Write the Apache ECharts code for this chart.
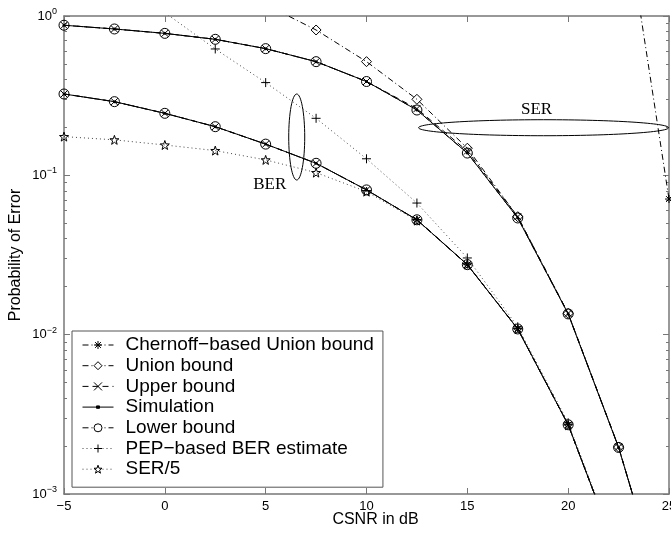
<!DOCTYPE html>
<html>
<head>
<meta charset="utf-8">
<script src="https://cdn.jsdelivr.net/npm/echarts@6/dist/echarts.min.js"></script>
<style>
html, body { margin: 0; padding: 0; background: #fff; }
#main { width: 671px; height: 535px; }
</style>
</head>
<body>
<div id="main"></div>
<script>
// CSNR grid (dB)
var snr = [-5, -2.5, 0, 2.5, 5, 7.5, 10, 12.5, 15, 17.5, 20, 22.5, 25];

// SER curves (upper group)
var serSim   = [0.875, 0.829, 0.778, 0.714, 0.624, 0.517, 0.388, 0.257, 0.138, 0.054, 0.0135, 0.00196, 0.00017];
var serUpper = [0.875, 0.829, 0.778, 0.714, 0.624, 0.517, 0.388, 0.262, 0.142, 0.055, 0.0136, 0.00197, 0.00017];
var unionX   = [5, 7.5, 10, 12.5, 15, 17.5, 20, 22.5, 25];
var unionSer = [1.18, 0.817, 0.517, 0.30, 0.148, 0.055, 0.0136, 0.00197, 0.00017];
var chernSerX = [22.5, 25];
var chernSer  = [8.1, 0.071];

// BER curves (lower group)
var berX    = [-5, -2.5, 0, 2.5, 5, 7.5, 10, 12.5, 15, 17.5, 20, 22.5];
var berSim  = [0.324, 0.290, 0.245, 0.202, 0.157, 0.119, 0.081, 0.0526, 0.0275, 0.01086, 0.00272, 0.0004];
var ser5    = [0.175, 0.167, 0.155, 0.143, 0.125, 0.104, 0.079, 0.052, 0.0276, 0.0108, 0.0027, 0.0004];
var pepX    = [0, 2.5, 5, 7.5, 10, 12.5, 15, 17.5, 20, 22.5];
var pep     = [1.05, 0.621, 0.382, 0.228, 0.127, 0.067, 0.0303, 0.0112, 0.0028, 0.00041];
var chernBerX = [12.5, 15, 17.5, 20, 22.5];
var chernBer  = [0.0526, 0.0275, 0.0109, 0.00272, 0.0004];

var legendNames = ['Chernoff-based Union bound', 'Union bound', 'Upper bound', 'Simulation',
    'Lower bound', 'PEP\u2212based BER estimate', 'SER/5'];

// minor ticks for the log axis
var minorTicks = [];
[0.001, 0.01, 0.1].forEach(function (d) {
    for (var k = 2; k <= 9; k++) minorTicks.push(+(d * k).toPrecision(3));
});

function pairs(xs, ys) {
    return xs.map(function (x, i) { return [x, ys[i]]; });
}

var SYM_PLUS = 'path://M0,-5L0,5M-5,0L5,0';
var SYM_X = 'path://M-5,-5L5,5M-5,5L5,-5';
var SYM_AST = 'path://M0,-5L0,5M-5,0L5,0M-3.6,-3.6L3.6,3.6M-3.6,3.6L3.6,-3.6';
var SYM_STAR = 'path://M0,-10L2.35,-3.24L9.51,-3.09L3.8,1.24L5.88,8.09L0,4L-5.88,8.09L-3.8,1.24L-9.51,-3.09L-2.35,-3.24Z';

var DASHDOT = [6, 3, 1, 3];
var DASH = [6, 4];
var DOT = [1, 3];

function mk(name, data, lineType, symbol, size, z) {
    return {
        name: name,
        type: 'line',
        data: data,
        symbol: symbol,
        symbolSize: size,
        showAllSymbol: true,
        clip: true,
        z: z,
        lineStyle: { color: '#000', width: 1, type: lineType },
        itemStyle: { color: 'rgba(0,0,0,0)', borderColor: '#000', borderWidth: 1 },
        emphasis: { disabled: true },
        animation: false
    };
}

var series = [
    mk(legendNames[0], pairs(chernSerX, chernSer), DASHDOT, SYM_AST, 8, 2),
    mk(legendNames[0], pairs(chernBerX, chernBer), DASHDOT, SYM_AST, 8, 2),
    mk(legendNames[1], pairs(unionX, unionSer), DASHDOT, 'diamond', 10, 2),
    mk(legendNames[2], pairs(snr, serUpper), DASH, SYM_X, 7, 2),
    mk(legendNames[2], pairs(berX, berSim), DASH, SYM_X, 7, 2),
    mk(legendNames[3], pairs(snr, serSim), 'solid', 'circle', 3, 3),
    mk(legendNames[3], pairs(berX, berSim), 'solid', 'circle', 3, 3),
    mk(legendNames[4], pairs(snr, serSim), DASHDOT, 'circle', 10, 2),
    mk(legendNames[4], pairs(berX, berSim), DASHDOT, 'circle', 10, 2),
    mk(legendNames[5], pairs(pepX, pep), DOT, SYM_PLUS, 9, 2),
    mk(legendNames[6], pairs(berX, ser5), DOT, SYM_STAR, 9, 2)
];
series[5].itemStyle = series[6].itemStyle = { color: '#000', borderWidth: 0 };
series[9].lineStyle.color = '#444';
series[10].lineStyle.color = '#444';

var FONT = 'Liberation Sans';
var axisGray = '#777';

function supLabel(v) {
    var e = Math.round(Math.log(v) / Math.LN10);
    return '{b|10}{s|' + (e === 0 ? '0' : '\u2212' + (-e)) + '}';
}
var supRich = {
    b: { fontFamily: FONT, fontSize: 13, color: '#000' },
    s: { fontFamily: FONT, fontSize: 9, color: '#000', padding: [0, 0, 9, 0] }
};

function logAxis(pos, labels, ticks, len, line) {
    var ax = {
        type: 'log', logBase: 10, min: 0.001, max: 1,
        position: pos,
        gridIndex: 0,
        axisLine: { show: line, onZero: false, lineStyle: { color: axisGray, width: 1.5 } },
        axisTick: { show: true, inside: true, length: len, lineStyle: { color: axisGray } },
        axisLabel: { show: labels, formatter: supLabel, rich: supRich, margin: 7 },
        splitLine: { show: false }
    };
    if (ticks) ax.axisTick.customValues = ticks;
    return ax;
}

var yAxes = [
    logAxis('left', true, null, 6, true),
    logAxis('left', false, minorTicks, 3, false),
    logAxis('right', false, null, 6, true),
    logAxis('right', false, minorTicks, 3, false)
];
yAxes[0].name = 'Probability of Error';
yAxes[0].nameLocation = 'middle';
yAxes[0].nameGap = 40;
yAxes[0].nameMoveOverlap = false;
yAxes[0].nameTextStyle = { fontFamily: FONT, fontSize: 16, color: '#000' };

function linAxis(pos, labels) {
    return {
        type: 'value', min: -5, max: 25, interval: 5,
        position: pos,
        axisLine: { show: true, onZero: false, lineStyle: { color: axisGray, width: 1.5 } },
        axisTick: { show: true, inside: true, length: 6, lineStyle: { color: axisGray } },
        axisLabel: {
            show: labels, margin: 6, fontFamily: FONT, fontSize: 13, color: '#000',
            formatter: function (v) { return String(v).replace('-', '\u2212'); }
        },
        splitLine: { show: false }
    };
}
var xAxes = [linAxis('bottom', true), linAxis('top', false)];
xAxes[0].name = 'CSNR in dB';
xAxes[0].nameLocation = 'middle';
xAxes[0].nameGap = 18;
xAxes[0].nameMoveOverlap = false;
xAxes[0].nameTextStyle = { fontFamily: FONT, fontSize: 16, color: '#000', padding: [0, 0, 0, 18] };

// legend entries: hollow markers, small solid dot for Simulation
var hollow = { color: '#fff', borderColor: '#000', borderWidth: 1 };
var legendData = legendNames.map(function (n, i) {
    if (i === 3) {
        return {
            name: n,
            icon: 'path://M0,0M31,10M0,5L31,5M14,3.8L17,3.8L17,6.2L14,6.2Z',
            itemStyle: { color: '#000', borderColor: '#000', borderWidth: 1 }
        };
    }
    return { name: n, itemStyle: hollow };
});

var chart = echarts.init(document.getElementById('main'), null, { renderer: 'canvas' });
chart.setOption({
    animation: false,
    backgroundColor: '#fff',
    grid: { left: 64, right: 2, top: 16, bottom: 41, outerBoundsMode: 'none', containLabel: false },
    xAxis: xAxes,
    yAxis: yAxes,
    legend: {
        orient: 'vertical',
        left: 72, top: 331,
        data: legendData,
        formatter: function (n) { return n.replace('-', '\u2212'); },
        itemWidth: 31, itemHeight: 10, itemGap: 0.7,
        padding: [4, 9, 8, 10],
        backgroundColor: '#fff',
        borderColor: '#555', borderWidth: 1, borderRadius: 0,
        selectedMode: false,
        lineStyle: { width: 1 },
        textStyle: { fontFamily: FONT, fontSize: 19, color: '#000', lineHeight: 20, padding: [0, 0, 0, 7] }
    },
    series: series
});

// annotation ellipses and labels, placed in data coordinates
function px(x, y) { return chart.convertToPixel({ xAxisIndex: 0, yAxisIndex: 0 }, [x, y]); }
var serC = px(18.78, 0.199);
var berC = px(6.54, 0.174);
chart.setOption({
    graphic: [
        { type: 'ellipse', shape: { cx: serC[0], cy: serC[1], rx: 125, ry: 8 },
          style: { fill: 'none', stroke: '#000', lineWidth: 1 }, z: 10 },
        { type: 'ellipse', shape: { cx: berC[0], cy: berC[1], rx: 8, ry: 43 },
          style: { fill: 'none', stroke: '#000', lineWidth: 1 }, z: 10 },
        { type: 'text', x: serC[0] - 7, y: serC[1] - 18,
          style: { text: 'SER', font: '17px "Liberation Serif"', fill: '#000', align: 'center', verticalAlign: 'middle' }, z: 10 },
        { type: 'text', x: berC[0] - 27, y: berC[1] + 48,
          style: { text: 'BER', font: '17px "Liberation Serif"', fill: '#000', align: 'center', verticalAlign: 'middle' }, z: 10 }
    ]
});
</script>
</body>
</html>
